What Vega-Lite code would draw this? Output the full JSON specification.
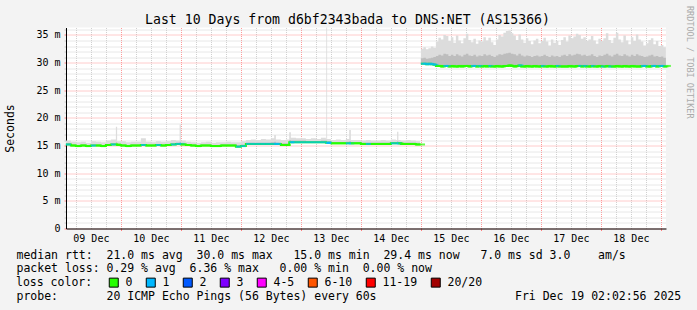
{
  "$schema": "https://vega.github.io/schema/vega-lite/v6.json",
  "width": 600,
  "height": 201,
  "autosize": {"type": "none"},
  "padding": {"left": 66, "top": 27.5, "right": 31, "bottom": 81.5},
  "background": "#f3f3f3",
  "config": {"view": {"fill": "#ffffff", "stroke": null}, "font": "DejaVu Sans Mono"},
  "title": {"text": "Last 10 Days from d6bf2343bada to DNS:NET (AS15366)", "font": "DejaVu Sans Mono", "fontSize": 13.2, "fontWeight": "normal", "color": "#000000", "anchor": "middle", "frame": "group", "dx": -18.5, "dy": 22.5, "offset": 1},
  "data": {"values": [
    {"t":"2025-12-09T02:00:00Z","s":1,"m":15.2,"q":15.4,"hi":15.9,"l":"1"},
    {"t":"2025-12-09T04:00:00Z","s":1,"m":15.0,"q":15.2,"hi":15.7,"l":"0"},
    {"t":"2025-12-09T06:00:00Z","s":1,"m":14.9,"q":15.1,"hi":15.6,"l":"0"},
    {"t":"2025-12-09T08:00:00Z","s":1,"m":15.0,"q":15.2,"hi":15.7,"l":"0"},
    {"t":"2025-12-09T10:00:00Z","s":1,"m":14.9,"q":15.1,"hi":15.5,"l":"0"},
    {"t":"2025-12-09T12:00:00Z","s":1,"m":15.0,"q":15.2,"hi":15.8,"l":"1"},
    {"t":"2025-12-09T14:00:00Z","s":1,"m":15.0,"q":15.2,"hi":15.7,"l":"0"},
    {"t":"2025-12-09T16:00:00Z","s":1,"m":14.9,"q":15.1,"hi":15.6,"l":"0"},
    {"t":"2025-12-09T18:00:00Z","s":1,"m":15.1,"q":15.3,"hi":15.9,"l":"0"},
    {"t":"2025-12-09T20:00:00Z","s":1,"m":15.2,"q":15.4,"hi":16.1,"l":"1"},
    {"t":"2025-12-09T22:00:00Z","s":1,"m":15.2,"q":15.6,"hi":18.4,"l":"0"},
    {"t":"2025-12-09T22:30:00Z","s":1,"m":15.1,"q":15.3,"hi":15.8,"l":"0"},
    {"t":"2025-12-10T00:00:00Z","s":1,"m":15.0,"q":15.2,"hi":15.8,"l":"0"},
    {"t":"2025-12-10T02:00:00Z","s":1,"m":14.9,"q":15.1,"hi":15.6,"l":"0"},
    {"t":"2025-12-10T04:00:00Z","s":1,"m":15.0,"q":15.2,"hi":15.7,"l":"0"},
    {"t":"2025-12-10T06:00:00Z","s":1,"m":15.0,"q":15.2,"hi":15.7,"l":"0"},
    {"t":"2025-12-10T08:00:00Z","s":1,"m":15.1,"q":15.3,"hi":16.3,"l":"1"},
    {"t":"2025-12-10T10:00:00Z","s":1,"m":15.0,"q":15.2,"hi":15.7,"l":"0"},
    {"t":"2025-12-10T12:00:00Z","s":1,"m":15.0,"q":15.2,"hi":15.6,"l":"0"},
    {"t":"2025-12-10T14:00:00Z","s":1,"m":15.1,"q":15.3,"hi":15.8,"l":"1"},
    {"t":"2025-12-10T16:00:00Z","s":1,"m":15.0,"q":15.2,"hi":15.7,"l":"0"},
    {"t":"2025-12-10T18:00:00Z","s":1,"m":15.1,"q":15.3,"hi":15.8,"l":"0"},
    {"t":"2025-12-10T20:00:00Z","s":1,"m":15.2,"q":15.4,"hi":16.0,"l":"1"},
    {"t":"2025-12-10T22:00:00Z","s":1,"m":15.3,"q":15.5,"hi":15.9,"l":"1"},
    {"t":"2025-12-10T23:30:00Z","s":1,"m":15.3,"q":15.7,"hi":18.8,"l":"1"},
    {"t":"2025-12-11T00:00:00Z","s":1,"m":15.2,"q":15.4,"hi":15.9,"l":"0"},
    {"t":"2025-12-11T02:00:00Z","s":1,"m":15.1,"q":15.3,"hi":15.7,"l":"0"},
    {"t":"2025-12-11T04:00:00Z","s":1,"m":15.0,"q":15.2,"hi":15.6,"l":"0"},
    {"t":"2025-12-11T06:00:00Z","s":1,"m":14.9,"q":15.1,"hi":15.5,"l":"0"},
    {"t":"2025-12-11T08:00:00Z","s":1,"m":15.0,"q":15.2,"hi":15.6,"l":"0"},
    {"t":"2025-12-11T10:00:00Z","s":1,"m":15.0,"q":15.2,"hi":15.7,"l":"0"},
    {"t":"2025-12-11T12:00:00Z","s":1,"m":14.9,"q":15.1,"hi":15.5,"l":"0"},
    {"t":"2025-12-11T14:00:00Z","s":1,"m":14.9,"q":15.1,"hi":15.6,"l":"0"},
    {"t":"2025-12-11T16:00:00Z","s":1,"m":15.0,"q":15.2,"hi":15.6,"l":"0"},
    {"t":"2025-12-11T18:00:00Z","s":1,"m":15.0,"q":15.2,"hi":15.7,"l":"0"},
    {"t":"2025-12-11T20:00:00Z","s":1,"m":15.0,"q":15.2,"hi":15.6,"l":"0"},
    {"t":"2025-12-11T22:00:00Z","s":1,"m":14.8,"q":15.1,"hi":15.6,"l":"1"},
    {"t":"2025-12-12T00:00:00Z","s":1,"m":14.9,"q":15.2,"hi":15.8,"l":"1"},
    {"t":"2025-12-12T02:00:00Z","s":1,"m":15.3,"q":15.5,"hi":16.0,"l":"1"},
    {"t":"2025-12-12T04:00:00Z","s":1,"m":15.3,"q":15.5,"hi":16.1,"l":"1"},
    {"t":"2025-12-12T06:00:00Z","s":1,"m":15.3,"q":15.5,"hi":16.0,"l":"1"},
    {"t":"2025-12-12T08:00:00Z","s":1,"m":15.3,"q":15.5,"hi":16.2,"l":"1"},
    {"t":"2025-12-12T10:00:00Z","s":1,"m":15.3,"q":15.5,"hi":16.1,"l":"1"},
    {"t":"2025-12-12T12:00:00Z","s":1,"m":15.3,"q":15.6,"hi":16.3,"l":"1"},
    {"t":"2025-12-12T13:20:00Z","s":1,"m":15.3,"q":15.7,"hi":16.9,"l":"1"},
    {"t":"2025-12-12T14:00:00Z","s":1,"m":15.3,"q":15.5,"hi":16.1,"l":"1"},
    {"t":"2025-12-12T16:00:00Z","s":1,"m":15.1,"q":15.4,"hi":16.0,"l":"0"},
    {"t":"2025-12-12T18:00:00Z","s":1,"m":15.1,"q":15.4,"hi":16.1,"l":"0"},
    {"t":"2025-12-12T19:20:00Z","s":1,"m":15.6,"q":16.0,"hi":17.4,"l":"1"},
    {"t":"2025-12-12T20:00:00Z","s":1,"m":15.6,"q":15.9,"hi":16.4,"l":"1"},
    {"t":"2025-12-12T22:00:00Z","s":1,"m":15.6,"q":15.9,"hi":16.3,"l":"1"},
    {"t":"2025-12-13T00:00:00Z","s":1,"m":15.6,"q":15.9,"hi":16.3,"l":"1"},
    {"t":"2025-12-13T02:00:00Z","s":1,"m":15.6,"q":15.8,"hi":16.2,"l":"1"},
    {"t":"2025-12-13T04:00:00Z","s":1,"m":15.6,"q":15.8,"hi":16.3,"l":"1"},
    {"t":"2025-12-13T06:00:00Z","s":1,"m":15.6,"q":15.8,"hi":16.2,"l":"1"},
    {"t":"2025-12-13T08:00:00Z","s":1,"m":15.6,"q":15.9,"hi":16.4,"l":"1"},
    {"t":"2025-12-13T10:00:00Z","s":1,"m":15.5,"q":15.8,"hi":16.2,"l":"1"},
    {"t":"2025-12-13T10:10:00Z","s":1,"m":15.5,"q":15.9,"hi":37.0,"l":"1"},
    {"t":"2025-12-13T10:30:00Z","s":1,"m":15.5,"q":15.8,"hi":16.2,"l":"1"},
    {"t":"2025-12-13T12:00:00Z","s":1,"m":15.4,"q":15.6,"hi":16.0,"l":"0"},
    {"t":"2025-12-13T14:00:00Z","s":1,"m":15.4,"q":15.6,"hi":16.1,"l":"0"},
    {"t":"2025-12-13T16:00:00Z","s":1,"m":15.4,"q":15.6,"hi":16.0,"l":"0"},
    {"t":"2025-12-13T18:00:00Z","s":1,"m":15.4,"q":15.7,"hi":16.2,"l":"1"},
    {"t":"2025-12-13T19:20:00Z","s":1,"m":15.4,"q":15.8,"hi":17.8,"l":"1"},
    {"t":"2025-12-13T20:00:00Z","s":1,"m":15.4,"q":15.6,"hi":16.0,"l":"0"},
    {"t":"2025-12-13T22:00:00Z","s":1,"m":15.4,"q":15.6,"hi":16.0,"l":"0"},
    {"t":"2025-12-14T00:00:00Z","s":1,"m":15.3,"q":15.5,"hi":15.9,"l":"0"},
    {"t":"2025-12-14T02:00:00Z","s":1,"m":15.3,"q":15.5,"hi":16.0,"l":"1"},
    {"t":"2025-12-14T04:00:00Z","s":1,"m":15.3,"q":15.5,"hi":15.9,"l":"0"},
    {"t":"2025-12-14T06:00:00Z","s":1,"m":15.3,"q":15.5,"hi":15.9,"l":"0"},
    {"t":"2025-12-14T08:00:00Z","s":1,"m":15.3,"q":15.5,"hi":16.0,"l":"0"},
    {"t":"2025-12-14T10:00:00Z","s":1,"m":15.3,"q":15.5,"hi":15.9,"l":"0"},
    {"t":"2025-12-14T12:00:00Z","s":1,"m":15.4,"q":15.6,"hi":16.1,"l":"1"},
    {"t":"2025-12-14T14:00:00Z","s":1,"m":15.4,"q":15.6,"hi":16.0,"l":"1"},
    {"t":"2025-12-14T14:30:00Z","s":1,"m":15.4,"q":15.8,"hi":17.5,"l":"1"},
    {"t":"2025-12-14T15:00:00Z","s":1,"m":15.4,"q":15.6,"hi":16.0,"l":"0"},
    {"t":"2025-12-14T16:00:00Z","s":1,"m":15.3,"q":15.5,"hi":15.9,"l":"0"},
    {"t":"2025-12-14T18:00:00Z","s":1,"m":15.3,"q":15.5,"hi":16.0,"l":"0"},
    {"t":"2025-12-14T20:00:00Z","s":1,"m":15.3,"q":15.5,"hi":15.9,"l":"0"},
    {"t":"2025-12-14T22:00:00Z","s":1,"m":15.2,"q":15.4,"hi":15.8,"l":"0"},
    {"t":"2025-12-14T23:40:00Z","s":1,"m":15.2,"q":15.4,"hi":15.8,"l":"0"},
    {"t":"2025-12-15T00:00:00Z","s":2,"m":29.8,"q":30.8,"hi":32.5,"l":"1"},
    {"t":"2025-12-15T01:00:00Z","s":2,"m":29.8,"q":30.9,"hi":32.8,"l":"1"},
    {"t":"2025-12-15T02:00:00Z","s":2,"m":29.7,"q":30.7,"hi":32.4,"l":"1"},
    {"t":"2025-12-15T03:00:00Z","s":2,"m":29.8,"q":30.8,"hi":32.6,"l":"1"},
    {"t":"2025-12-15T04:00:00Z","s":2,"m":29.7,"q":30.9,"hi":32.9,"l":"1"},
    {"t":"2025-12-15T05:00:00Z","s":2,"m":29.6,"q":31.0,"hi":32.7,"l":"1"},
    {"t":"2025-12-15T06:00:00Z","s":2,"m":29.4,"q":31.2,"hi":33.8,"l":"0"},
    {"t":"2025-12-15T07:00:00Z","s":2,"m":29.4,"q":31.4,"hi":34.5,"l":"0"},
    {"t":"2025-12-15T08:00:00Z","s":2,"m":29.3,"q":31.3,"hi":34.2,"l":"0"},
    {"t":"2025-12-15T09:00:00Z","s":2,"m":29.4,"q":31.6,"hi":35.0,"l":"1"},
    {"t":"2025-12-15T10:00:00Z","s":2,"m":29.4,"q":31.5,"hi":34.8,"l":"1"},
    {"t":"2025-12-15T11:00:00Z","s":2,"m":29.3,"q":31.2,"hi":33.9,"l":"0"},
    {"t":"2025-12-15T12:00:00Z","s":2,"m":29.4,"q":31.4,"hi":34.6,"l":"0"},
    {"t":"2025-12-15T13:00:00Z","s":2,"m":29.3,"q":31.2,"hi":33.6,"l":"0"},
    {"t":"2025-12-15T14:00:00Z","s":2,"m":29.3,"q":31.5,"hi":34.9,"l":"0"},
    {"t":"2025-12-15T15:00:00Z","s":2,"m":29.4,"q":31.3,"hi":34.0,"l":"0"},
    {"t":"2025-12-15T16:00:00Z","s":2,"m":29.3,"q":31.1,"hi":33.5,"l":"0"},
    {"t":"2025-12-15T17:00:00Z","s":2,"m":29.4,"q":31.4,"hi":34.4,"l":"0"},
    {"t":"2025-12-15T18:00:00Z","s":2,"m":29.4,"q":31.6,"hi":35.2,"l":"0"},
    {"t":"2025-12-15T19:00:00Z","s":2,"m":29.3,"q":31.3,"hi":34.1,"l":"0"},
    {"t":"2025-12-15T20:00:00Z","s":2,"m":29.4,"q":31.2,"hi":33.7,"l":"1"},
    {"t":"2025-12-15T21:00:00Z","s":2,"m":29.4,"q":31.4,"hi":34.3,"l":"1"},
    {"t":"2025-12-15T22:00:00Z","s":2,"m":29.3,"q":31.1,"hi":33.4,"l":"0"},
    {"t":"2025-12-15T23:00:00Z","s":2,"m":29.4,"q":31.3,"hi":34.0,"l":"1"},
    {"t":"2025-12-16T00:00:00Z","s":2,"m":29.3,"q":31.2,"hi":33.8,"l":"0"},
    {"t":"2025-12-16T01:00:00Z","s":2,"m":29.4,"q":31.5,"hi":34.6,"l":"0"},
    {"t":"2025-12-16T02:00:00Z","s":2,"m":29.3,"q":31.3,"hi":34.0,"l":"0"},
    {"t":"2025-12-16T03:00:00Z","s":2,"m":29.4,"q":31.4,"hi":34.5,"l":"1"},
    {"t":"2025-12-16T04:00:00Z","s":2,"m":29.3,"q":31.2,"hi":33.7,"l":"0"},
    {"t":"2025-12-16T05:00:00Z","s":2,"m":29.3,"q":31.0,"hi":33.2,"l":"0"},
    {"t":"2025-12-16T06:00:00Z","s":2,"m":29.4,"q":31.3,"hi":34.2,"l":"0"},
    {"t":"2025-12-16T07:00:00Z","s":2,"m":29.3,"q":31.5,"hi":35.0,"l":"0"},
    {"t":"2025-12-16T08:00:00Z","s":2,"m":29.3,"q":31.4,"hi":34.7,"l":"0"},
    {"t":"2025-12-16T09:00:00Z","s":2,"m":29.4,"q":31.6,"hi":35.4,"l":"0"},
    {"t":"2025-12-16T10:00:00Z","s":2,"m":29.4,"q":31.7,"hi":35.7,"l":"0"},
    {"t":"2025-12-16T11:00:00Z","s":2,"m":29.5,"q":31.8,"hi":35.8,"l":"0"},
    {"t":"2025-12-16T12:00:00Z","s":2,"m":29.4,"q":31.6,"hi":35.3,"l":"0"},
    {"t":"2025-12-16T13:00:00Z","s":2,"m":29.3,"q":31.5,"hi":34.9,"l":"0"},
    {"t":"2025-12-16T14:00:00Z","s":2,"m":29.4,"q":31.3,"hi":34.1,"l":"0"},
    {"t":"2025-12-16T15:00:00Z","s":2,"m":29.5,"q":31.6,"hi":35.1,"l":"1"},
    {"t":"2025-12-16T16:00:00Z","s":2,"m":29.3,"q":31.3,"hi":34.2,"l":"0"},
    {"t":"2025-12-16T17:00:00Z","s":2,"m":29.3,"q":31.1,"hi":33.6,"l":"0"},
    {"t":"2025-12-16T18:00:00Z","s":2,"m":29.4,"q":31.3,"hi":34.4,"l":"0"},
    {"t":"2025-12-16T19:00:00Z","s":2,"m":29.3,"q":31.2,"hi":33.9,"l":"0"},
    {"t":"2025-12-16T20:00:00Z","s":2,"m":29.3,"q":31.0,"hi":33.3,"l":"0"},
    {"t":"2025-12-16T21:00:00Z","s":2,"m":29.4,"q":31.2,"hi":34.0,"l":"0"},
    {"t":"2025-12-16T22:00:00Z","s":2,"m":29.3,"q":31.3,"hi":34.3,"l":"0"},
    {"t":"2025-12-16T23:00:00Z","s":2,"m":29.3,"q":31.1,"hi":33.5,"l":"0"},
    {"t":"2025-12-17T00:00:00Z","s":2,"m":29.4,"q":31.2,"hi":33.9,"l":"1"},
    {"t":"2025-12-17T01:00:00Z","s":2,"m":29.3,"q":31.4,"hi":34.5,"l":"0"},
    {"t":"2025-12-17T02:00:00Z","s":2,"m":29.3,"q":31.2,"hi":33.8,"l":"0"},
    {"t":"2025-12-17T03:00:00Z","s":2,"m":29.4,"q":31.0,"hi":33.1,"l":"0"},
    {"t":"2025-12-17T04:00:00Z","s":2,"m":29.3,"q":31.3,"hi":34.2,"l":"0"},
    {"t":"2025-12-17T05:00:00Z","s":2,"m":29.3,"q":31.1,"hi":33.6,"l":"0"},
    {"t":"2025-12-17T06:00:00Z","s":2,"m":29.4,"q":31.2,"hi":33.9,"l":"1"},
    {"t":"2025-12-17T07:00:00Z","s":2,"m":29.3,"q":31.0,"hi":33.2,"l":"0"},
    {"t":"2025-12-17T08:00:00Z","s":2,"m":29.3,"q":31.3,"hi":34.1,"l":"0"},
    {"t":"2025-12-17T09:00:00Z","s":2,"m":29.3,"q":31.4,"hi":34.6,"l":"0"},
    {"t":"2025-12-17T10:00:00Z","s":2,"m":29.3,"q":31.2,"hi":33.8,"l":"0"},
    {"t":"2025-12-17T11:00:00Z","s":2,"m":29.4,"q":31.5,"hi":34.9,"l":"0"},
    {"t":"2025-12-17T12:00:00Z","s":2,"m":29.3,"q":31.3,"hi":34.4,"l":"0"},
    {"t":"2025-12-17T13:00:00Z","s":2,"m":29.3,"q":31.4,"hi":34.7,"l":"0"},
    {"t":"2025-12-17T14:00:00Z","s":2,"m":29.4,"q":31.6,"hi":35.2,"l":"0"},
    {"t":"2025-12-17T15:00:00Z","s":2,"m":29.4,"q":31.5,"hi":35.0,"l":"1"},
    {"t":"2025-12-17T16:00:00Z","s":2,"m":29.3,"q":31.3,"hi":34.3,"l":"0"},
    {"t":"2025-12-17T17:00:00Z","s":2,"m":29.4,"q":31.4,"hi":34.6,"l":"1"},
    {"t":"2025-12-17T18:00:00Z","s":2,"m":29.3,"q":31.2,"hi":33.9,"l":"0"},
    {"t":"2025-12-17T19:00:00Z","s":2,"m":29.3,"q":31.3,"hi":34.2,"l":"0"},
    {"t":"2025-12-17T20:00:00Z","s":2,"m":29.4,"q":31.5,"hi":34.8,"l":"1"},
    {"t":"2025-12-17T21:00:00Z","s":2,"m":29.3,"q":31.2,"hi":34.0,"l":"0"},
    {"t":"2025-12-17T22:00:00Z","s":2,"m":29.3,"q":31.0,"hi":33.4,"l":"0"},
    {"t":"2025-12-17T23:00:00Z","s":2,"m":29.4,"q":31.3,"hi":34.3,"l":"0"},
    {"t":"2025-12-18T00:00:00Z","s":2,"m":29.3,"q":31.2,"hi":33.9,"l":"1"},
    {"t":"2025-12-18T01:00:00Z","s":2,"m":29.3,"q":31.4,"hi":34.4,"l":"0"},
    {"t":"2025-12-18T02:00:00Z","s":2,"m":29.4,"q":31.6,"hi":35.3,"l":"0"},
    {"t":"2025-12-18T03:00:00Z","s":2,"m":29.3,"q":31.3,"hi":34.1,"l":"1"},
    {"t":"2025-12-18T04:00:00Z","s":2,"m":29.3,"q":31.1,"hi":33.6,"l":"0"},
    {"t":"2025-12-18T05:00:00Z","s":2,"m":29.3,"q":31.4,"hi":34.5,"l":"0"},
    {"t":"2025-12-18T06:00:00Z","s":2,"m":29.4,"q":31.6,"hi":35.4,"l":"0"},
    {"t":"2025-12-18T07:00:00Z","s":2,"m":29.3,"q":31.3,"hi":34.2,"l":"0"},
    {"t":"2025-12-18T08:00:00Z","s":2,"m":29.3,"q":31.2,"hi":33.7,"l":"0"},
    {"t":"2025-12-18T09:00:00Z","s":2,"m":29.4,"q":31.5,"hi":34.9,"l":"0"},
    {"t":"2025-12-18T10:00:00Z","s":2,"m":29.3,"q":31.3,"hi":34.0,"l":"0"},
    {"t":"2025-12-18T11:00:00Z","s":2,"m":29.3,"q":31.1,"hi":33.3,"l":"0"},
    {"t":"2025-12-18T12:00:00Z","s":2,"m":29.4,"q":31.4,"hi":34.6,"l":"0"},
    {"t":"2025-12-18T13:00:00Z","s":2,"m":29.3,"q":31.2,"hi":33.9,"l":"0"},
    {"t":"2025-12-18T14:00:00Z","s":2,"m":29.3,"q":31.5,"hi":35.1,"l":"0"},
    {"t":"2025-12-18T15:00:00Z","s":2,"m":29.3,"q":31.3,"hi":34.2,"l":"0"},
    {"t":"2025-12-18T16:00:00Z","s":2,"m":29.4,"q":31.2,"hi":33.8,"l":"1"},
    {"t":"2025-12-18T17:00:00Z","s":2,"m":29.4,"q":31.0,"hi":33.1,"l":"1"},
    {"t":"2025-12-18T18:00:00Z","s":2,"m":29.3,"q":31.1,"hi":33.5,"l":"0"},
    {"t":"2025-12-18T19:00:00Z","s":2,"m":29.3,"q":31.3,"hi":34.1,"l":"0"},
    {"t":"2025-12-18T20:00:00Z","s":2,"m":29.4,"q":31.4,"hi":34.4,"l":"1"},
    {"t":"2025-12-18T21:00:00Z","s":2,"m":29.4,"q":31.1,"hi":33.3,"l":"1"},
    {"t":"2025-12-18T22:00:00Z","s":2,"m":29.3,"q":31.2,"hi":33.9,"l":"0"},
    {"t":"2025-12-18T23:00:00Z","s":2,"m":29.4,"q":31.0,"hi":33.0,"l":"1"},
    {"t":"2025-12-19T00:00:00Z","s":2,"m":29.4,"q":31.1,"hi":33.2,"l":"1"},
    {"t":"2025-12-19T01:00:00Z","s":2,"m":29.3,"q":30.9,"hi":32.8,"l":"0"},
    {"t":"2025-12-19T02:00:00Z","s":2,"m":29.4,"q":31.0,"hi":33.0,"l":"0"}
  ]},
  "encoding": {
    "x": {
      "field": "t", "type": "temporal",
      "scale": {"type": "utc", "domain": [1765245780000, 1766109780000]},
      "axis": {
        "title": [
          "median\u00a0rtt:\u00a0\u00a021.0\u00a0ms\u00a0avg\u00a0\u00a030.0\u00a0ms\u00a0max\u00a0\u00a0\u00a015.0\u00a0ms\u00a0min\u00a0\u00a029.4\u00a0ms\u00a0now\u00a0\u00a0\u00a07.0\u00a0ms\u00a0sd\u00a03.0\u00a0\u00a0\u00a0\u00a0am/s",
          "packet\u00a0loss:\u00a00.29\u00a0%\u00a0avg\u00a0\u00a06.36\u00a0%\u00a0max\u00a0\u00a0\u00a00.00\u00a0%\u00a0min\u00a0\u00a00.00\u00a0%\u00a0now",
          "\u200b",
          "probe:\u00a0\u00a0\u00a0\u00a0\u00a0\u00a0\u00a020\u00a0ICMP\u00a0Echo\u00a0Pings\u00a0(56\u00a0Bytes)\u00a0every\u00a060s\u00a0\u00a0\u00a0\u00a0\u00a0\u00a0\u00a0\u00a0\u00a0\u00a0\u00a0\u00a0\u00a0\u00a0\u00a0\u00a0\u00a0\u00a0\u00a0\u00a0Fri\u00a0Dec\u00a019\u00a002:02:56\u00a02025"
        ],
        "titleFont": "DejaVu Sans Mono", "titleFontSize": 11.5, "titleFontWeight": "normal", "titleColor": "#000000",
        "titleAlign": "left", "titleAnchor": "start", "titleBaseline": "alphabetic", "titleX": -50, "titleY": 29.5, "titleLineHeight": 13.8,
        "tickCount": 100,
        "values": [1765260000000, 1765281600000, 1765303200000, 1765324800000, 1765346400000, 1765368000000, 1765389600000, 1765411200000, 1765432800000, 1765454400000, 1765476000000, 1765497600000, 1765519200000, 1765540800000, 1765562400000, 1765584000000, 1765605600000, 1765627200000, 1765648800000, 1765670400000, 1765692000000, 1765713600000, 1765735200000, 1765756800000, 1765778400000, 1765800000000, 1765821600000, 1765843200000, 1765864800000, 1765886400000, 1765908000000, 1765929600000, 1765951200000, 1765972800000, 1765994400000, 1766016000000, 1766037600000, 1766059200000, 1766080800000, 1766102400000],
        "labelExpr": "utchours(datum.value) == 12 ? utcFormat(datum.value, '%d %b') : ''",
        "labelFont": "DejaVu Sans Mono", "labelFontSize": 10, "labelColor": "#000000", "labelPadding": 3,
        "labelOverlap": false, "labelBound": false, "labelFlush": false,
        "grid": true,
        "gridColor": {"condition": {"test": "utchours(datum.value) == 0", "value": "#ff9999"}, "value": "#d0d0d0"},
        "gridDash": [1, 1], "gridWidth": 1,
        "ticks": true, "tickSize": 2,
        "tickColor": {"condition": {"test": "utchours(datum.value) == 0", "value": "#ff8080"}, "value": "transparent"},
        "domainColor": "#000000", "domainWidth": 1
      }
    }
  },
  "layer": [
    {
      "mark": {"type": "area", "interpolate": "step-after", "color": "#dcdcdc", "clip": true},
      "encoding": {
        "detail": {"field": "s", "type": "nominal"},
        "y": {
          "field": "hi", "type": "quantitative",
          "scale": {"domain": [0, 36.35], "nice": false, "zero": false},
          "axis": {
            "tickCount": 100,
            "values": [0,1,2,3,4,5,6,7,8,9,10,11,12,13,14,15,16,17,18,19,20,21,22,23,24,25,26,27,28,29,30,31,32,33,34,35,36],
            "labelExpr": "datum.value % 5 == 0 ? (datum.value == 0 ? '0\u00a0\u00a0' : datum.value + '\u00a0m') : ''",
            "labelFont": "DejaVu Sans Mono", "labelFontSize": 10, "labelColor": "#000000", "labelPadding": 4,
            "labelOverlap": false, "labelBound": false, "labelFlush": false,
            "title": "Seconds", "titleFont": "DejaVu Sans Mono", "titleFontSize": 11.5, "titleFontWeight": "normal", "titleColor": "#000000",
            "titleX": -56, "titleY": 100.5, "titleAlign": "center", "titleBaseline": "middle", "titleAngle": -90,
            "grid": true,
            "gridColor": {"condition": {"test": "datum.value % 5 == 0", "value": "#ff9999"}, "value": "#d0d0d0"},
            "gridDash": [1, 1], "gridWidth": 1,
            "tickSize": 2,
            "tickColor": {"condition": {"test": "datum.value % 5 == 0", "value": "#ff8080"}, "value": "#c8c8c8"},
            "domainColor": "#000000", "domainWidth": 1
          }
        },
        "y2": {"field": "m"}
      }
    },
    {
      "mark": {"type": "area", "interpolate": "step-after", "color": "#bdbdbd", "clip": true},
      "encoding": {
        "detail": {"field": "s", "type": "nominal"},
        "y": {
          "field": "q", "type": "quantitative",
          "axis": {
            "orient": "right", "labels": false, "ticks": false, "domain": false, "grid": false, "tickCount": 1,
            "title": "RRDTOOL / TOBI OETIKER", "titleFont": "DejaVu Sans Mono", "titleFontSize": 8.5, "titleFontWeight": "normal", "titleColor": "#aaaaaa",
            "titleAngle": 90, "titleX": 23, "titleY": -22, "titleAlign": "left", "titleBaseline": "middle"
          }
        },
        "y2": {"field": "m"}
      }
    },
    {
      "mark": {"type": "line", "interpolate": "step-after", "color": "#26ff00", "strokeWidth": 2},
      "encoding": {
        "detail": {"field": "s", "type": "nominal"},
        "y": {"field": "m", "type": "quantitative", "axis": null}
      }
    },
    {
      "mark": {"type": "tick", "orient": "horizontal", "size": 5, "thickness": 2, "xOffset": 2.5},
      "encoding": {
        "y": {"field": "m", "type": "quantitative", "axis": null},
        "color": {
          "field": "l", "type": "nominal",
          "scale": {"domain": ["0", "1", "2", "3", "4-5", "6-10", "11-19", "20/20"], "range": ["#26ff00", "#00b8ff", "#0059ff", "#7e00ff", "#ff00ff", "#ff5500", "#ff0000", "#a10000"]},
          "legend": {
            "orient": "none", "legendX": -50, "legendY": 249, "direction": "horizontal", "columns": 8,
            "title": "loss color:", "titleOrient": "left", "titleFont": "DejaVu Sans Mono", "titleFontSize": 11.5, "titleFontWeight": "normal", "titleColor": "#000000", "titlePadding": 15,
            "labelFont": "DejaVu Sans Mono", "labelFontSize": 11.5, "labelColor": "#000000", "labelOffset": 6,
            "symbolType": "square", "symbolSize": 81, "symbolStrokeColor": "#000000", "symbolStrokeWidth": 1, "symbolOpacity": 1,
            "columnPadding": 11, "padding": 0
          }
        }
      }
    }
  ],
  "resolve": {"axis": {"y": "independent"}}
}
